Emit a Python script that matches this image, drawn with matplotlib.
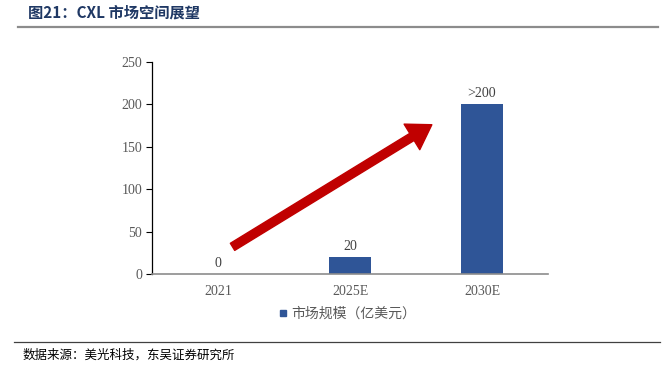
import matplotlib
matplotlib.use("Agg")
import matplotlib.pyplot as plt
from matplotlib.lines import Line2D

categories = ["2021", "2025E", "2030E"]
values = [0, 20, 200]
bar_labels = ["0", "20", ">200"]
yticks = [0, 50, 100, 150, 200, 250]
series_name = "市场规模（亿美元）"
title = "图21：CXL 市场空间展望"
source = "数据来源：美光科技，东吴证券研究所"
arrow_start = (0.11, 32)
arrow_end = (1.62, 176)

bar_color = "#2f5597"
serif = ["Liberation Serif", "Noto Sans CJK SC"]
cjk = ["Noto Sans CJK SC", "DejaVu Sans"]

fig = plt.figure(figsize=(6.7, 3.7), dpi=100)
ax = fig.add_axes([0.2269, 0.2595, 0.591, 0.573])

x = range(len(categories))
bars = ax.bar(x, values, width=0.32, color=bar_color, zorder=2)
ax.bar_label(bars, labels=bar_labels, padding=3, fontsize=10,
             color="#404040", family=serif)

ax.set_xlim(-0.5, 2.5)
ax.set_ylim(0, 250)
ax.set_yticks(yticks)
ax.set_xticks(list(x))
ax.set_xticklabels(categories)
for lab in ax.get_xticklabels() + ax.get_yticklabels():
    lab.set_family(serif)
    lab.set_fontsize(10)
    lab.set_color("#595959")
ax.tick_params(axis="x", length=0, pad=8)
ax.tick_params(axis="y", length=4, width=0.8, color="#000000", pad=3)
for s in ["top", "right"]:
    ax.spines[s].set_visible(False)
ax.spines["left"].set_color("#000000")
ax.spines["left"].set_linewidth(0.9)
ax.spines["bottom"].set_color("#8c8c8c")
ax.spines["bottom"].set_linewidth(1.2)

ax.annotate("", xy=arrow_end, xytext=arrow_start,
            arrowprops=dict(arrowstyle="simple,head_width=1.8,head_length=1.4,tail_width=0.5",
                            color="#c00000", mutation_scale=12, shrinkA=0, shrinkB=0),
            zorder=3)

handle = Line2D([], [], marker="s", linestyle="none", color=bar_color, markersize=5)
fig.legend([handle], [series_name], loc="center", bbox_to_anchor=(0.515, 0.152),
           frameon=False, prop={"family": cjk, "size": 10}, handletextpad=0.0,
           handlelength=1.2, labelcolor="#595959")

fig.text(0.042, 0.965, title, fontsize=11, fontweight="bold", color="#1f3864",
         family=cjk, va="center", ha="left")
fig.add_artist(Line2D([0.027, 0.982], [0.927, 0.927], color="#8c8c8c", lw=1.6,
                      transform=fig.transFigure))
fig.add_artist(Line2D([0.021, 0.985], [0.076, 0.076], color="#404040", lw=0.9,
                      transform=fig.transFigure))
fig.text(0.034, 0.04, source, fontsize=9, color="#000000", family=cjk,
         va="center", ha="left")

fig.savefig("out.png", dpi=100)
